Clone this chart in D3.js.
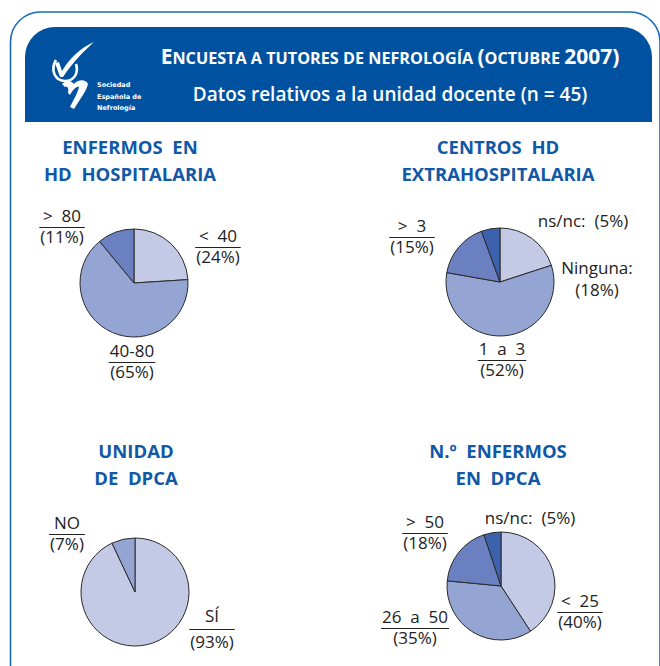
<!DOCTYPE html>
<html>
<head>
<meta charset="utf-8">
<script src="https://cdn.jsdelivr.net/npm/d3@7"></script>
<style>
  body { margin: 0; background: #fff; }
  svg { display: block; }
</style>
</head>
<body>
<svg id="chart" width="660" height="666"></svg>
<script>
// Data
var hospCats = ['< 40', '40-80', '> 80'];
var hospVals = [24, 65, 11];

var extraCats = ['Ninguna:', '1 a 3', '> 3', 'ns/nc:'];
var extraVals = [18, 52, 15, 5];

var dpcaCats = ['SÍ', 'NO'];
var dpcaVals = [93, 7];

var patCats = ['< 25', '26 a 50', '> 50', 'ns/nc:'];
var patVals = [40, 35, 18, 5];

var colors = ['#c4cae5', '#95a5d3', '#6a80c0', '#3d62ad'];

var svg = d3.select('#chart');

/*
 * Frame and header
 */
svg.append('path')
  .attr('d', 'M10.5,666 V42 A30,30 0 0 1 40.5,12 H630 A30,30 0 0 1 660,42 V666')
  .attr('fill', 'none')
  .attr('stroke', '#1a68c0')
  .attr('stroke-width', 1.6);

svg.append('path')
  .attr('d', 'M25,122 V57 A30,30 0 0 1 55,27 H622 A30,30 0 0 1 652,57 V122 Z')
  .attr('fill', '#0052a0');

// logo
var logo = svg.append('g').attr('fill', '#fff');
logo.append('path')
  .attr('d', 'M55,63 L59,62 L62,71 C70,58 80,48 94,42 C84,51 73,62 63,77 L60,77 Z');
logo.append('path')
  .attr('d', 'M56,60 C50,70 55,81 65,81 C74,81 79,73 76,64')
  .attr('fill', 'none')
  .attr('stroke', '#fff')
  .attr('stroke-width', 2.6);
logo.append('path')
  .attr('d', 'M62,84 C66,80 71,80 74,84 C78,79 86,79 88,84 C86,92 80,99 74,109 L70,107 C74,99 78,92 79,87 C76,86 73,90 70,95 L68,93 C69,89 68,86 65,87 Z');
logo.selectAll('text')
  .data(['Sociedad', 'Española de', 'Nefrología'])
  .enter().append('text')
  .attr('x', 97)
  .attr('y', function(d, i) { return 87 + i * 11.5; })
  .attr('font-family', 'DejaVu Sans, sans-serif')
  .attr('font-size', 6.5)
  .attr('font-weight', 'bold')
  .text(function(d) { return d; });

// header title in small caps
var head = svg.append('text')
  .attr('x', 390)
  .attr('y', 64)
  .attr('text-anchor', 'middle')
  .attr('fill', '#fff')
  .attr('font-family', 'Open Sans, sans-serif')
  .attr('font-weight', 'bold');
[['E', 21], ['NCUESTA A TUTORES DE NEFROLOGÍA ', 16.2], ['(', 21], ['OCTUBRE ', 16.2], ['2007)', 21]]
  .forEach(function(p) {
    head.append('tspan').attr('font-size', p[1]).text(p[0]);
  });
svg.append('text')
  .attr('x', 390)
  .attr('y', 101)
  .attr('text-anchor', 'middle')
  .attr('fill', '#fff')
  .attr('font-family', 'Open Sans, sans-serif')
  .attr('font-weight', 600)
  .attr('font-size', 19)
  .text('Datos relativos a la unidad docente (n = 45)');

/*
 * Pie panels
 */
var panels = [
  {title: ['ENFERMOS  EN', 'HD  HOSPITALARIA'], tx: 130, ty: 154, cx: 134, cy: 283,
    cats: hospCats, vals: hospVals,
    labels: [[84, -41, true], [-2, 74, true], [-72, -61, true]]},
  {title: ['CENTROS  HD', 'EXTRAHOSPITALARIA'], tx: 498, ty: 154, cx: 500, cy: 282,
    cats: extraCats, vals: extraVals,
    labels: [[97, -8, false], [2, 73, true], [-88, -50, true], [83, -55, false]]},
  {title: ['UNIDAD', 'DE  DPCA'], tx: 136, ty: 458, cx: 135, cy: 592,
    cats: dpcaCats, vals: dpcaVals,
    labels: [[77, 30, true], [-68, -63, true]]},
  {title: ['N.º  ENFERMOS', 'EN  DPCA'], tx: 498, ty: 458, cx: 501, cy: 586,
    cats: patCats, vals: patVals,
    labels: [[79, 21, true], [-86, 37, true], [-76, -58, true], [29, -62, false]]}
];

var radius = 54;
var pie = d3.pie().sort(null).value(function(d) { return d.value; });
var arc = d3.arc().innerRadius(0).outerRadius(radius);

panels.forEach(function(p) {
  svg.append('g')
    .selectAll('text')
    .data(p.title)
    .enter().append('text')
    .attr('x', p.tx)
    .attr('y', function(d, i) { return p.ty + i * 26.5; })
    .attr('text-anchor', 'middle')
    .attr('fill', '#1158a7')
    .attr('font-family', 'Open Sans, sans-serif')
    .attr('font-weight', 'bold')
    .attr('font-size', 18.5)
    .style('white-space', 'pre')
    .text(function(d) { return d; });

  var rows = p.cats.map(function(c, i) { return {key: c, value: p.vals[i], idx: i}; });
  var g = svg.append('g')
    .attr('transform', 'translate(' + p.cx + ',' + p.cy + ')');

  g.selectAll('path')
    .data(pie(rows))
    .enter().append('path')
    .attr('d', arc)
    .attr('fill', function(d) { return colors[d.data.idx]; })
    .attr('stroke', '#2a2a2a')
    .attr('stroke-width', 1);

  // labels: name over percentage, split by a rule
  rows.forEach(function(r, i) {
    var lp = p.labels[i];
    var lab = g.append('g')
      .attr('transform', 'translate(' + lp[0] + ',' + lp[1] + ')')
      .attr('font-family', 'Open Sans, sans-serif')
      .attr('font-size', 17)
      .attr('fill', '#222');
    if (r.key === 'ns/nc:') {
      lab.append('text')
        .attr('text-anchor', 'middle')
        .style('white-space', 'pre')
        .text(r.key + '  (' + r.value + '%)');
      return;
    }
    var top = lab.append('text')
      .attr('text-anchor', 'middle')
      .style('white-space', 'pre')
      .text(r.key.replace(/ /g, '  '));
    var bottom = lab.append('text')
      .attr('text-anchor', 'middle')
      .attr('y', lp[2] ? (r.key === 'SÍ' ? 26 : 21) : 22)
      .text('(' + r.value + '%)');
    if (lp[2]) {
      var w = Math.max(top.node().getComputedTextLength(), bottom.node().getComputedTextLength());
      var ly = r.key === 'SÍ' ? 7.5 : 5.5;
      lab.append('line')
        .attr('x1', -w / 2 - 1)
        .attr('x2', w / 2 + 1)
        .attr('y1', ly)
        .attr('y2', ly)
        .attr('stroke', '#222')
        .attr('stroke-width', 1);
    }
  });
});
</script>
</body>
</html>
